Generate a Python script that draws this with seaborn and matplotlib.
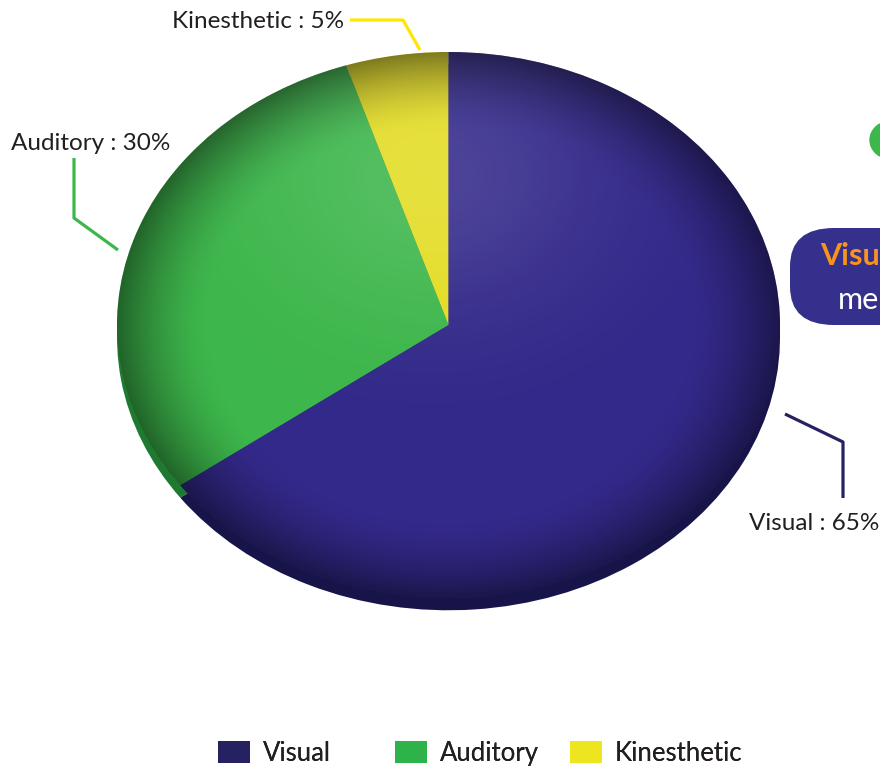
import numpy as np
import seaborn as sns
import matplotlib.pyplot as plt
from matplotlib.patches import Circle, FancyBboxPatch, Patch

# data
styles = ["Kinesthetic", "Auditory", "Visual"]
shares = [5, 30, 65]
pie_colors = ["#e3dc22", "#3db64b", "#33298a"]
rim_colors = ["#9a9415", "#1d7a30", "#17144a"]
legend_order = ["Visual", "Auditory", "Kinesthetic"]
legend_colors = ["#262262", "#2db34a", "#ede51f"]
line_colors = ["#ffe600", "#3db64b", "#262262"]

sns.set_style("white")
plt.rcParams['font.family'] = ['Lato', 'DejaVu Sans']

fig = plt.figure(figsize=(8.8, 7.68), dpi=100)
ax = fig.add_axes([117 / 880, 170 / 768, 663 / 880, 546 / 768])

# darker rim underneath to fake the thickness
ax.pie(shares, colors=rim_colors, startangle=90, counterclock=True,
       center=(0, -0.045), radius=1.0, wedgeprops=dict(linewidth=0))
wedges, _ = ax.pie(shares, colors=pie_colors, startangle=90, counterclock=True,
                   radius=1.0, wedgeprops=dict(linewidth=0))

# soft shading: dark edge + light highlight
xx, yy = np.meshgrid(np.linspace(-1, 1, 400), np.linspace(-1, 1, 400))
r = np.sqrt(xx ** 2 + yy ** 2)
shade = np.zeros(xx.shape + (4,))
edge = np.clip((r - 0.72) / 0.28, 0, 1) ** 1.6 * 0.45
hl = 0.13 * np.exp(-((xx + 0.05) ** 2 + (yy - 0.55) ** 2) / 0.25)
alpha = edge + hl
shade[..., :3] = (hl / np.maximum(alpha, 1e-6))[..., None]
shade[..., 3] = np.clip(alpha, 0, 1)
im = ax.imshow(shade, extent=[-1, 1, -1, 1], origin="lower", zorder=3,
               interpolation="bilinear")
im.set_clip_path(Circle((0, 0), 1.0, transform=ax.transData))

ax.set_aspect("auto")
ax.set_xlim(-1, 1)
ax.set_ylim(-1, 1)
ax.axis("off")

# labels with leader lines (data coords of the stretched pie)
def px(x, y):
    return (x - 448.5) / 331.5, (325 - y) / 273

label_lines = {
    "Kinesthetic": [(350, 20), (403, 20), (420, 50)],
    "Auditory": [(74, 158), (74, 218), (118, 250)],
    "Visual": [(785, 414), (843, 442), (843, 498)],
}
label_pos = {
    "Kinesthetic": ((344, 21), "right"),
    "Auditory": ((11, 143), "left"),
    "Visual": ((749, 524), "left"),
}
for name, val, lc in zip(styles, shares, line_colors):
    pts = [px(*p) for p in label_lines[name]]
    ax.plot([p[0] for p in pts], [p[1] for p in pts], color=lc, lw=2.3,
            clip_on=False, solid_capstyle="butt", zorder=5)
    (tx, ty), ha = label_pos[name]
    x, y = px(tx, ty)
    ax.text(x, y, f"{name} : {val}%", ha=ha, va="center", fontsize=17.5,
            color="#231f20", clip_on=False)

# partial elements at right edge
fig.patches.append(Circle((892 / 880, 1 - 140 / 768), 22 / 880,
                          transform=fig.transFigure, color="#3db64b",
                          figure=fig))
box = FancyBboxPatch((790 / 880, 1 - 325 / 768), 200 / 880, 97 / 768,
                     boxstyle="round,pad=0,rounding_size=0.05",
                     transform=fig.transFigure, facecolor="#35308b",
                     edgecolor="none", figure=fig)
fig.patches.append(box)
fig.text(820 / 880, 1 - 256 / 768, "Visual", fontsize=22, fontweight="bold",
         color="#f7941d", va="center", ha="left")
fig.text(838 / 880, 1 - 300 / 768, "memory", fontsize=22, color="white",
         va="center", ha="left")

# legend: one entry per block, placed like the reference
legend_x = [218, 395, 570]
for name, c, lx in zip(legend_order, legend_colors, legend_x):
    leg = fig.legend([Patch(facecolor=c, edgecolor="none")], [name],
                     loc="upper left", bbox_to_anchor=(lx / 880, 1 - 741 / 768),
                     frameon=False, fontsize=18.5, borderpad=0, borderaxespad=0,
                     handlelength=1.25, handleheight=0.9, handletextpad=0.5,
                     labelcolor="#231f20")
    fig.add_artist(leg)

fig.savefig("out.png", dpi=100)
